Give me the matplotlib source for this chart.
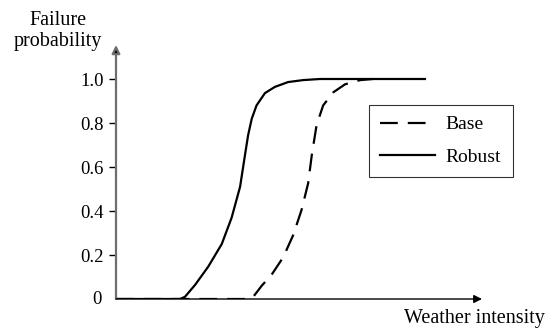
import matplotlib.pyplot as plt

plt.rcParams['font.family'] = 'Liberation Serif'

# curves (x in arbitrary intensity units, 0..10)
robust_x = [0, 1.75, 1.885, 2.16, 2.52, 2.89, 3.16, 3.39, 3.52, 3.61, 3.71, 3.84,
            4.07, 4.34, 4.70, 5.11, 5.57, 8.44]
robust_y = [0, 0, 0.01, 0.064, 0.147, 0.25, 0.37, 0.51, 0.65, 0.745, 0.82, 0.88,
            0.936, 0.964, 0.986, 0.995, 1.0, 1.0]

base_x = [0, 3.61, 3.75, 3.98, 4.25, 4.57, 4.84, 5.07, 5.25, 5.35, 5.48, 5.66,
          5.94, 6.26, 6.67, 7.02]
base_y = [0, 0, 0.01, 0.06, 0.11, 0.19, 0.29, 0.405, 0.526, 0.655, 0.79, 0.88,
          0.94, 0.976, 0.995, 1.0]

yticks = [0, 0.2, 0.4, 0.6, 0.8, 1.0]
ytick_labels = ['0', '0.2', '0.4', '0.6', '0.8', '1.0']

fig = plt.figure(figsize=(5.45, 3.34), dpi=100)
ax = fig.add_axes([116 / 545, 35 / 334, 366 / 545, 254 / 334])

ax.plot(base_x, base_y, color='black', lw=1.6, ls=(0, (8, 4.5)), label='Base',
        solid_joinstyle='round')
ax.plot(robust_x, robust_y, color='black', lw=1.6, label='Robust',
        solid_joinstyle='round')

ax.set_xlim(0, 10)
ax.set_ylim(0, 254 / 220)

for s in ax.spines.values():
    s.set_visible(False)

# axes with arrows
ax.annotate('', xy=(0, 1.0), xytext=(0, 0), xycoords='axes fraction',
            arrowprops=dict(arrowstyle='-|>', color='#6e6e6e', lw=1.6,
                            mutation_scale=12, shrinkA=0, shrinkB=0, fc='black'))
ax.annotate('', xy=(1.0, 0), xytext=(0, 0), xycoords='axes fraction',
            arrowprops=dict(arrowstyle='-|>', color='black', lw=1.0,
                            mutation_scale=12, shrinkA=0, shrinkB=0))

ax.set_xticks([])
ax.set_yticks(yticks[1:])
ax.set_yticklabels(ytick_labels[1:], fontsize=13.5)
ax.tick_params(axis='y', length=5, width=1, direction='out', pad=4, color='black')
ax.text(-0.04, 0, '0', transform=ax.get_yaxis_transform(), ha='right', va='center',
        fontsize=13.5)

fig.text(58 / 545, 1 - 31 / 334, 'Failure\nprobability', ha='center', va='center',
         fontsize=14.5, linespacing=1.15)
fig.text(545 / 545, 1 - 318 / 334, 'Weather intensity', ha='right', va='center',
         fontsize=14.5)

leg = ax.legend(loc='upper left', bbox_to_anchor=(253 / 366, 1 - 60 / 254), fontsize=13.5,
                frameon=True, fancybox=False, edgecolor='black', handlelength=2.9,
                handletextpad=0.6, borderpad=0.6, labelspacing=0.8, borderaxespad=0)
leg.get_frame().set_linewidth(0.8)
for t in leg.get_texts():
    t.set_fontsize(14)

fig.savefig('out.png', dpi=100)
